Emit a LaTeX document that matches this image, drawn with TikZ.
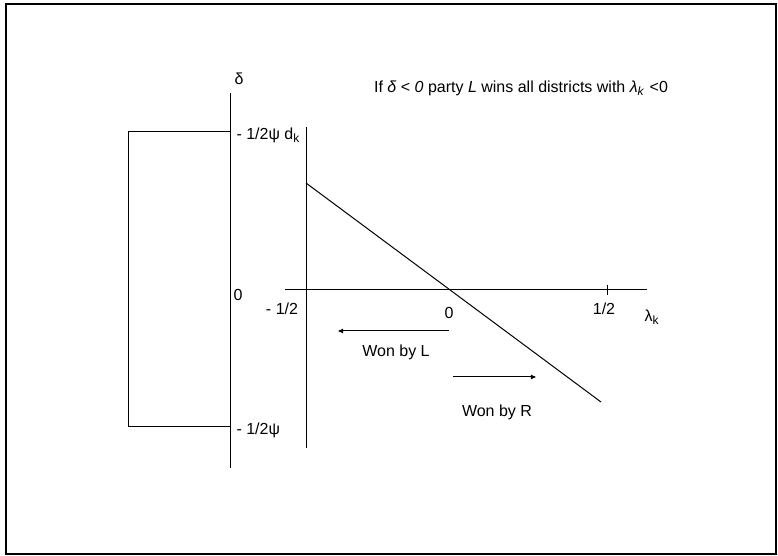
\documentclass[tikz,border=0pt]{standalone}
\usepackage{fontspec}
\setmainfont{Liberation Sans}
\usetikzlibrary{arrows.meta}
\begin{document}
\begin{tikzpicture}[x=0.5pt,y=-0.5pt,
  font=\fontsize{8}{9.6}\selectfont,
  line width=0.5pt,
  lbl/.style={inner sep=0pt},
  arr/.style={-{Triangle[length=2.6pt,width=2.2pt]}}]
\useasboundingbox (0,0) rectangle (778,556);
\draw[line width=0.7pt] (6,4) rectangle (776,554);
% delta axis
\coordinate (dtop) at (230,93);
\coordinate (dbot) at (230,468);
\draw (dtop) -- (dbot);
\node[lbl] (delta) at (239,79) {δ};
% bracket
\coordinate (bt) at (230,132);
\coordinate (bb) at (230,427);
\coordinate (bl1) at (128,132);
\coordinate (bl2) at (128,427);
\draw (bt) -- (bl1) -- (bl2) -- (bb);
\node[lbl,anchor=west] (uplab) at (236,135) {- 1/2ψ d\textsubscript{k}};
\node[lbl,anchor=west] (lolab) at (236,430) {- 1/2ψ};
\node[lbl] (zero1) at (238,295) {0};
% lambda axis
\coordinate (vtop) at (306,127);
\coordinate (vbot) at (306,448);
\draw (vtop) -- (vbot);
\coordinate (hl) at (285,290);
\coordinate (hr) at (647,290);
\draw (hl) -- (hr);
\coordinate (t1) at (607,285);
\coordinate (t2) at (607,295);
\draw (t1) -- (t2);
\node[lbl] (mhalf) at (282,309) {- 1/2};
\node[lbl] (zero2) at (449,313) {0};
\node[lbl] (half) at (604,309) {1/2};
\node[lbl] (lam) at (652,317) {λ\textsubscript{k}};
% diagonal
\coordinate (d1) at (306,183);
\coordinate (d2) at (601,402);
\draw (d1) -- (d2);
% arrows
\coordinate (aL1) at (449,331);
\coordinate (aL2) at (338,331);
\draw[arr] (aL1) -- (aL2);
\node[lbl] (wonL) at (396,352) {Won by L};
\coordinate (aR1) at (453,377);
\coordinate (aR2) at (536,377);
\draw[arr] (aR1) -- (aR2);
\node[lbl] (wonR) at (497,412) {Won by R};
% title
\node[lbl] (title) at (521,88) {If \textit{δ} < \textit{0} party \textit{L} wins all districts with \textit{λ}\textsubscript{\textit{k}} <0};
\end{tikzpicture}
\end{document}
